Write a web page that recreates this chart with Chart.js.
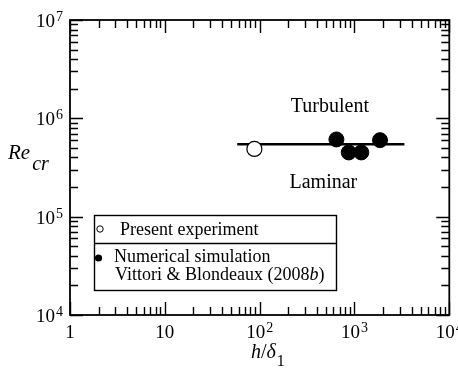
<!DOCTYPE html>
<html lang="en">
<head>
  <meta charset="UTF-8">
  <title>Critical Reynolds number</title>
  <style>
    body {
      margin: 0;
      background: #fff;
    }
    #chart {
      display: block;
    }
  </style>
  <script src="https://cdn.jsdelivr.net/npm/chart.js"></script>
</head>
<body>
  <canvas id="chart" width="458" height="370"></canvas>

  <script>
    // Present experiment (open circle)
    const experimentX = [88];
    const experimentY = [4.88e5];

    // Numerical simulation, Vittori & Blondeaux (2008b)
    const simulationX = [645, 870, 1180, 1860];
    const simulationY = [6.1e5, 4.5e5, 4.5e5, 6.0e5];

    // Critical line
    const fitX = [58, 3360];
    const fitY = [5.45e5, 5.45e5];

    // Axis ranges and tick labels (base, superscript)
    const xRange = [1, 1e4];
    const yRange = [1e4, 1e7];
    const xDecades = [0, 1, 2, 3, 4];
    const yDecades = [4, 5, 6, 7];
    const xTickLabels = [['1', ''], ['10', ''], ['10', '2'], ['10', '3'], ['10', '4']];
    const yTickLabels = [['10', '4'], ['10', '5'], ['10', '6'], ['10', '7']];
    const minorSteps = [2, 3, 4, 5, 6, 7, 8, 9];

    // Region labels, placed in data coordinates
    const regionLabels = [
      { text: 'Turbulent', x: 550, y: 1.17e6 },
      { text: 'Laminar', x: 470, y: 1.94e5 }
    ];

    const SERIF = '"Liberation Serif", "DejaVu Serif", serif';

    function toPoints(xs, ys) {
      return xs.map((x, i) => ({ x: x, y: ys[i] }));
    }

    // draws "base" with a raised "sup", anchored by align ('center' or 'right')
    function drawPower(ctx, base, sup, x, y, align) {
      ctx.font = '19px ' + SERIF;
      const wBase = ctx.measureText(base).width;
      ctx.font = '14px ' + SERIF;
      const wSup = sup ? ctx.measureText(sup).width + 1 : 0;
      const total = wBase + wSup;
      let left = align === 'right' ? x - total : x - total / 2;
      ctx.textAlign = 'left';
      ctx.textBaseline = 'alphabetic';
      ctx.font = '19px ' + SERIF;
      ctx.fillText(base, left, y);
      if (sup) {
        ctx.font = '14px ' + SERIF;
        ctx.fillText(sup, left + wBase + 1, y - 6);
      }
    }

    const framePlugin = {
      id: 'frame',
      afterDraw(chart) {
        const ctx = chart.ctx;
        const a = chart.chartArea;
        const xs = chart.scales.x;
        const ys = chart.scales.y;
        ctx.save();
        ctx.strokeStyle = '#000';
        ctx.fillStyle = '#000';

        // inward ticks on all four sides
        ctx.lineWidth = 1.4;
        function xTick(v, len) {
          const px = Math.round(xs.getPixelForValue(v)) + 0.5;
          ctx.beginPath();
          ctx.moveTo(px, a.bottom); ctx.lineTo(px, a.bottom - len);
          ctx.moveTo(px, a.top); ctx.lineTo(px, a.top + len);
          ctx.stroke();
        }
        function yTick(v, len) {
          const py = Math.round(ys.getPixelForValue(v)) + 0.5;
          ctx.beginPath();
          ctx.moveTo(a.left, py); ctx.lineTo(a.left + len, py);
          ctx.moveTo(a.right, py); ctx.lineTo(a.right - len, py);
          ctx.stroke();
        }
        xDecades.forEach((e, i) => {
          xTick(Math.pow(10, e), 13);
          if (i < xDecades.length - 1) minorSteps.forEach(m => xTick(m * Math.pow(10, e), 8));
        });
        yDecades.forEach((e, i) => {
          yTick(Math.pow(10, e), 13);
          if (i < yDecades.length - 1) minorSteps.forEach(m => yTick(m * Math.pow(10, e), 8));
        });

        // frame
        ctx.lineWidth = 1.8;
        ctx.strokeRect(a.left, a.top, a.right - a.left, a.bottom - a.top);

        // tick labels
        xDecades.forEach((e, i) => {
          const px = xs.getPixelForValue(Math.pow(10, e));
          drawPower(ctx, xTickLabels[i][0], xTickLabels[i][1], px, a.bottom + 23, 'center');
        });
        yDecades.forEach((e, i) => {
          const py = ys.getPixelForValue(Math.pow(10, e));
          drawPower(ctx, yTickLabels[i][0], yTickLabels[i][1], a.left - 7, py + 7, 'right');
        });

        // axis titles
        ctx.textAlign = 'left';
        ctx.textBaseline = 'alphabetic';
        ctx.font = 'italic 20px ' + SERIF;
        let tx = 251;
        ctx.fillText('h', tx, 358);
        tx += ctx.measureText('h').width;
        ctx.font = '20px ' + SERIF;
        ctx.fillText('/', tx, 358);
        tx += ctx.measureText('/').width;
        ctx.font = 'italic 20px ' + SERIF;
        ctx.fillText('\u03b4', tx, 358);
        tx += ctx.measureText('\u03b4').width;
        ctx.font = '16px ' + SERIF;
        ctx.fillText('1', tx + 1, 366);

        ctx.font = 'italic 21px ' + SERIF;
        ctx.fillText('Re', 8, 159);
        const wRe = ctx.measureText('Re').width;
        ctx.font = 'italic 20px ' + SERIF;
        ctx.fillText('cr', 8 + wRe + 2, 170);

        // region labels
        ctx.font = '20px ' + SERIF;
        ctx.textAlign = 'center';
        regionLabels.forEach(l => {
          ctx.fillText(l.text, xs.getPixelForValue(l.x), ys.getPixelForValue(l.y));
        });

        // legend box
        const box = { left: 94.5, top: 215.5, right: 336.5, bottom: 290.5, split: 243.5 };
        ctx.fillStyle = '#fff';
        ctx.fillRect(box.left, box.top, box.right - box.left, box.bottom - box.top);
        ctx.lineWidth = 1.4;
        ctx.strokeStyle = '#000';
        ctx.strokeRect(box.left, box.top, box.right - box.left, box.bottom - box.top);
        ctx.beginPath();
        ctx.moveTo(box.left, box.split);
        ctx.lineTo(box.right, box.split);
        ctx.stroke();

        ctx.lineWidth = 1;
        ctx.beginPath();
        ctx.arc(100, 229, 3.2, 0, Math.PI * 2);
        ctx.stroke();
        ctx.fillStyle = '#000';
        ctx.beginPath();
        ctx.arc(98.5, 258, 3.6, 0, Math.PI * 2);
        ctx.fill();

        ctx.textAlign = 'left';
        ctx.font = '18px ' + SERIF;
        ctx.fillText('Present experiment', 120, 235);
        ctx.fillText('Numerical simulation', 114, 262);
        const line3 = 'Vittori & Blondeaux (2008';
        ctx.fillText(line3, 115, 280);
        let lx = 115 + ctx.measureText(line3).width;
        ctx.font = 'italic 18px ' + SERIF;
        ctx.fillText('b', lx, 280);
        lx += ctx.measureText('b').width;
        ctx.font = '18px ' + SERIF;
        ctx.fillText(')', lx, 280);

        ctx.restore();
      }
    };

    const ctx = document.getElementById('chart').getContext('2d');
    new Chart(ctx, {
      type: 'scatter',
      data: {
        datasets: [
          {
            label: 'Numerical simulation',
            data: toPoints(simulationX, simulationY),
            backgroundColor: '#000',
            borderColor: '#000',
            borderWidth: 1,
            pointRadius: 7.5,
            pointHoverRadius: 7.5,
            order: 0
          },
          {
            label: 'Present experiment',
            data: toPoints(experimentX, experimentY),
            backgroundColor: '#fff',
            borderColor: '#000',
            borderWidth: 1.2,
            pointRadius: 7.5,
            pointHoverRadius: 7.5,
            order: 1
          },
          {
            type: 'line',
            label: 'Critical line',
            data: toPoints(fitX, fitY),
            borderColor: '#000',
            borderWidth: 2.5,
            pointRadius: 0,
            fill: false,
            order: 2
          }
        ]
      },
      options: {
        responsive: false,
        animation: false,
        events: [],
        layout: {
          padding: { left: 70, right: 6, top: 20, bottom: 55 }
        },
        plugins: {
          legend: { display: false },
          tooltip: { enabled: false }
        },
        scales: {
          x: { type: 'logarithmic', min: xRange[0], max: xRange[1], display: false },
          y: { type: 'logarithmic', min: yRange[0], max: yRange[1], display: false }
        }
      },
      plugins: [framePlugin]
    });
  </script>
</body>
</html>
